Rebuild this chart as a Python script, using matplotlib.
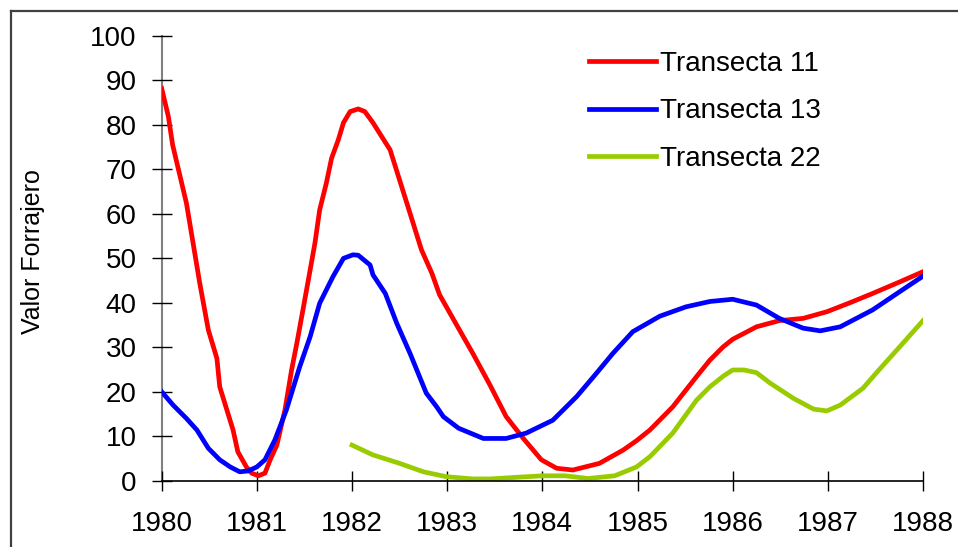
import matplotlib
matplotlib.use("Agg")
import matplotlib.pyplot as plt
from matplotlib.lines import Line2D

plt.rcParams['font.family'] = ['Liberation Sans', 'DejaVu Sans']

# Transecta 11 (red)
x_t11 = [1980.0, 1980.07, 1980.115, 1980.26, 1980.33, 1980.40, 1980.49, 1980.58, 1980.61,
         1980.75, 1980.80, 1980.89, 1980.945, 1981.015, 1981.085, 1981.14, 1981.21, 1981.295,
         1981.365, 1981.42, 1981.49, 1981.56, 1981.61, 1981.66, 1981.73, 1981.785, 1981.855,
         1981.91, 1981.98, 1982.065, 1982.135, 1982.22, 1982.40, 1982.50, 1982.61, 1982.73,
         1982.84, 1982.92, 1983.10, 1983.27, 1983.45, 1983.62, 1983.80, 1983.99, 1984.15,
         1984.32, 1984.60, 1984.85, 1984.99, 1985.13, 1985.37, 1985.62, 1985.76, 1985.90,
         1986.00, 1986.25, 1986.49, 1986.74, 1986.99, 1987.23, 1987.47, 1987.755, 1988.0]
y_t11 = [88.2, 81.9, 75.5, 62.4, 53.4, 44.4, 33.9, 27.5, 21.1,
         11.4, 6.5, 3.1, 1.7, 1.1, 1.7, 4.7, 8.0, 15.9,
         24.9, 30.9, 39.1, 47.4, 53.4, 60.9, 66.9, 72.5, 76.6,
         80.5, 83.0, 83.6, 83.0, 80.5, 74.4, 67.6, 60.1, 51.9,
         46.6, 41.8, 35.0, 28.6, 21.5, 14.4, 9.5, 4.7, 2.8,
         2.4, 3.9, 6.9, 9.0, 11.4, 16.6, 23.4, 27.1, 30.1,
         31.8, 34.6, 36.0, 36.5, 38.0, 40.0, 42.1, 44.7, 47.0]

# Transecta 13 (blue)
x_t13 = [1980.0, 1980.12, 1980.26, 1980.37, 1980.49, 1980.61, 1980.72, 1980.82, 1980.91,
         1981.0, 1981.085, 1981.19, 1981.31, 1981.45, 1981.56, 1981.66, 1981.80, 1981.91,
         1982.01, 1982.065, 1982.19, 1982.22, 1982.35, 1982.47, 1982.61, 1982.78, 1982.89,
         1982.96, 1983.12, 1983.38, 1983.62, 1983.83, 1984.11, 1984.36, 1984.57, 1984.74,
         1984.95, 1985.235, 1985.51, 1985.76, 1986.00, 1986.25, 1986.49, 1986.74, 1986.92,
         1987.13, 1987.47, 1987.755, 1988.0]
y_t13 = [20.0, 17.0, 14.0, 11.4, 7.3, 4.7, 3.1, 2.0, 2.2,
         3.1, 4.7, 9.2, 15.9, 25.6, 32.4, 39.9, 45.9, 50.0,
         50.8, 50.7, 48.5, 46.3, 42.1, 35.4, 28.6, 19.7, 16.6,
         14.4, 11.8, 9.5, 9.5, 10.7, 13.6, 18.9, 24.2, 28.6,
         33.5, 37.0, 39.1, 40.3, 40.8, 39.5, 36.5, 34.3, 33.7,
         34.6, 38.4, 42.5, 46.0]

# Transecta 22 (green), starts in 1982
x_t22 = [1982.0, 1982.22, 1982.50, 1982.75, 1982.99, 1983.27, 1983.45, 1983.76, 1984.0,
         1984.24, 1984.48, 1984.76, 1984.99, 1985.13, 1985.37, 1985.62, 1985.76, 1985.90,
         1986.00, 1986.12, 1986.25, 1986.39, 1986.64, 1986.85, 1986.99, 1987.13, 1987.37,
         1987.52, 1987.755, 1988.0]
y_t22 = [8.0, 5.8, 3.9, 2.0, 0.9, 0.4, 0.4, 0.8, 1.1,
         1.1, 0.5, 1.1, 3.1, 5.4, 10.7, 18.1, 21.1, 23.5,
         24.9, 24.9, 24.3, 22.0, 18.5, 16.1, 15.7, 17.0, 20.8,
         24.5, 30.1, 36.0]

years = list(range(1980, 1989))
yticks = list(range(0, 101, 10))

fig = plt.figure(figsize=(9.58, 5.47), dpi=100)
ax = fig.add_axes([161.7 / 958, 1 - 480.7 / 547, (923 - 161.7) / 958, (480.7 - 36) / 547])

lw = 3.4
ax.plot(x_t11, y_t11, color='#ff0000', lw=lw, label='Transecta 11', solid_joinstyle='round')
ax.plot(x_t13, y_t13, color='#0000ff', lw=lw, label='Transecta 13', solid_joinstyle='round')
ax.plot(x_t22, y_t22, color='#99cc00', lw=lw, label='Transecta 22', solid_joinstyle='round')

ax.set_xlim(1980, 1988)
ax.set_ylim(0, 100)
ax.set_xticks(years)
ax.set_yticks(yticks)
ax.tick_params(axis='both', direction='inout', length=14, width=1, labelsize=20, color='black')
ax.tick_params(axis='x', pad=15)
ax.tick_params(axis='y', pad=11)

for s in ['top', 'right']:
    ax.spines[s].set_visible(False)
ax.spines['left'].set_color('#808080')
ax.spines['left'].set_linewidth(1.5)
ax.spines['bottom'].set_color('black')
ax.spines['bottom'].set_linewidth(1.2)
ax.spines['left'].set_zorder(0.5)

ax.set_ylabel('Valor Forrajero', fontsize=18)
ax.yaxis.set_label_coords(-0.1533, 0.515)

leg = ax.legend(loc='upper left', bbox_to_anchor=(589 / 958, 1 - 51 / 547),
                bbox_transform=fig.transFigure, frameon=False, fontsize=20,
                handlelength=2.4, handletextpad=0.15, labelspacing=0.77, borderpad=0,
                borderaxespad=0)

# frame around the picture (only top and left edges visible)
fig.add_artist(Line2D([10.5 / 958, 10.5 / 958], [0, 1 - 11 / 547], transform=fig.transFigure,
                      color='#404040', lw=1.6))
fig.add_artist(Line2D([10.5 / 958, 1], [1 - 11 / 547, 1 - 11 / 547], transform=fig.transFigure,
                      color='#404040', lw=1.6))

fig.savefig('out.png', dpi=100)
